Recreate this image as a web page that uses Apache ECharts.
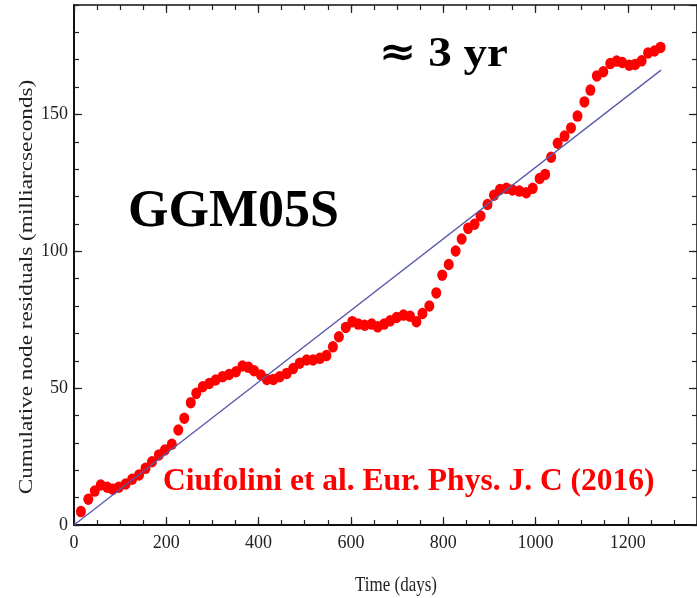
<!DOCTYPE html>
<html>
<head>
<meta charset="utf-8">
<script src="https://cdn.jsdelivr.net/npm/echarts@6/dist/echarts.min.js"></script>
<style>
  html, body { margin: 0; padding: 0; background: #fff; }
  #chart { width: 697px; height: 598px; }
</style>
</head>
<body>
<div id="chart"></div>
<script>
// 14-day arc centres (days) and the cumulative node residuals (mas)
const days = [15, 31, 45, 58, 72, 84, 97, 112, 126, 141,
    155, 169, 184, 197, 212, 226, 239, 253, 265, 279,
    293, 307, 322, 336, 351, 365, 378, 390, 405, 418,
    432, 446, 461, 475, 489, 504, 518, 533, 547, 561,
    574, 589, 603, 616, 630, 645, 658, 672, 685, 699,
    714, 728, 742, 755, 770, 785, 798, 812, 827, 840,
    854, 868, 881, 896, 910, 923, 937, 950, 965, 980,
    994, 1009, 1021, 1034, 1048, 1063, 1077, 1091, 1106, 1119,
    1133, 1147, 1162, 1176, 1188, 1203, 1216, 1230, 1244, 1258,
    1271];
const residuals = [4.9, 9.4, 12.4, 14.6, 13.8, 13.1, 13.8, 15.0, 16.7, 18.3,
    20.7, 23.1, 25.6, 27.4, 29.5, 34.7, 39.0, 44.7, 48.1, 50.5,
    51.7, 53.0, 54.2, 55.0, 56.0, 58.1, 57.6, 56.4, 54.8, 53.2,
    53.2, 54.2, 55.4, 57.2, 59.1, 60.3, 60.3, 60.9, 61.9, 65.1,
    68.8, 72.2, 74.3, 73.4, 73.0, 73.4, 72.4, 73.4, 74.6, 75.8,
    76.7, 76.3, 74.3, 77.3, 80.0, 84.8, 91.3, 95.2, 100.1, 104.5,
    108.4, 109.9, 112.9, 117.1, 120.5, 122.6, 123.0, 122.4, 122.0, 121.4,
    123.0, 126.6, 128.1, 134.4, 139.5, 142.1, 145.1, 149.4, 154.6, 158.9,
    164.1, 165.6, 168.6, 169.5, 169.0, 168.0, 168.3, 169.6, 172.5, 173.2,
    174.5];

// straight-line fit
const fitDays = [0, 1272];
const fitValues = [0, 166.2];

const serif = '"Liberation Serif", "DejaVu Serif", serif';

// one axis per side for major ticks (with labels) and one for minor ticks
function makeAxis(pos, isX, major) {
    const ax = {
        type: 'value',
        position: pos,
        min: 0,
        max: isX ? 1350 : 190,
        interval: isX ? (major ? 200 : 50) : (major ? 50 : 10),
        splitLine: { show: false },
        axisLine: {
            show: major,
            onZero: false,
            lineStyle: { color: '#111', width: (pos === 'top' || pos === 'right') ? 1.5 : 2 }
        },
        axisTick: {
            show: true,
            inside: true,
            length: major ? 8 : 5,
            lineStyle: { color: '#222', width: 1.2 }
        },
        axisLabel: { show: false }
    };
    if (major && (pos === 'bottom' || pos === 'left')) {
        ax.axisLabel = {
            show: true,
            showMaxLabel: false,
            formatter: v => String(v),
            fontFamily: serif,
            fontSize: 18,
            color: '#222',
            margin: isX ? 9 : 6
        };
    }
    return ax;
}

const chart = echarts.init(document.getElementById('chart'));

const option = {
    backgroundColor: '#fff',
    animation: false,
    grid: { left: 74, top: 5, width: 626, height: 520 },
    xAxis: [
        makeAxis('bottom', true, true),
        makeAxis('bottom', true, false),
        makeAxis('top', true, true),
        makeAxis('top', true, false)
    ],
    yAxis: [
        makeAxis('left', false, true),
        makeAxis('left', false, false),
        makeAxis('right', false, true),
        makeAxis('right', false, false)
    ],
    series: [
        {
            type: 'scatter',
            xAxisIndex: 0,
            yAxisIndex: 0,
            data: days.map((d, i) => [d, residuals[i]]),
            symbol: 'circle',
            symbolSize: [10, 11.5],
            itemStyle: { color: '#ff0000', opacity: 1 },
            z: 2
        },
        {
            type: 'line',
            xAxisIndex: 0,
            yAxisIndex: 0,
            data: fitDays.map((d, i) => [d, fitValues[i]]),
            showSymbol: false,
            symbol: 'none',
            lineStyle: { color: '#5a5aaa', width: 1.3 },
            z: 3
        }
    ],
    graphic: [
        {
            type: 'text',
            x: 27, y: 287,
            rotation: Math.PI / 2,
            scaleX: 1.29,
            style: {
                text: 'Cumulative node residuals (milliarcseconds)',
                fontFamily: serif,
                fontSize: 18,
                fill: '#222',
                align: 'center',
                verticalAlign: 'middle'
            }
        },
        {
            type: 'text',
            x: 396, y: 586,
            scaleY: 1.2,
            style: {
                text: 'Time (days)',
                fontFamily: serif,
                fontSize: 17,
                fill: '#222',
                align: 'center',
                verticalAlign: 'middle'
            }
        },
        {
            type: 'text',
            x: 128, y: 213,
            style: {
                text: 'GGM05S',
                fontFamily: serif,
                fontWeight: 'bold',
                fontSize: 52,
                fill: '#000',
                align: 'left',
                verticalAlign: 'middle'
            }
        },
        {
            type: 'text',
            x: 379, y: 55,
            scaleX: 1.12,
            style: {
                text: '{a|≈} 3 yr',
                fontFamily: serif,
                fontWeight: 'bold',
                fontSize: 42,
                fill: '#000',
                align: 'left',
                verticalAlign: 'middle',
                rich: {
                    a: { fontFamily: '"DejaVu Serif", serif', fontWeight: 'bold', fontSize: 40, fill: '#000' }
                }
            }
        },
        {
            type: 'text',
            x: 163, y: 482,
            style: {
                text: 'Ciufolini et al. Eur. Phys. J. C (2016)',
                fontFamily: serif,
                fontWeight: 'bold',
                fontSize: 31.5,
                fill: '#ff0000',
                align: 'left',
                verticalAlign: 'middle'
            }
        }
    ]
};

chart.setOption(option);
</script>
</body>
</html>
